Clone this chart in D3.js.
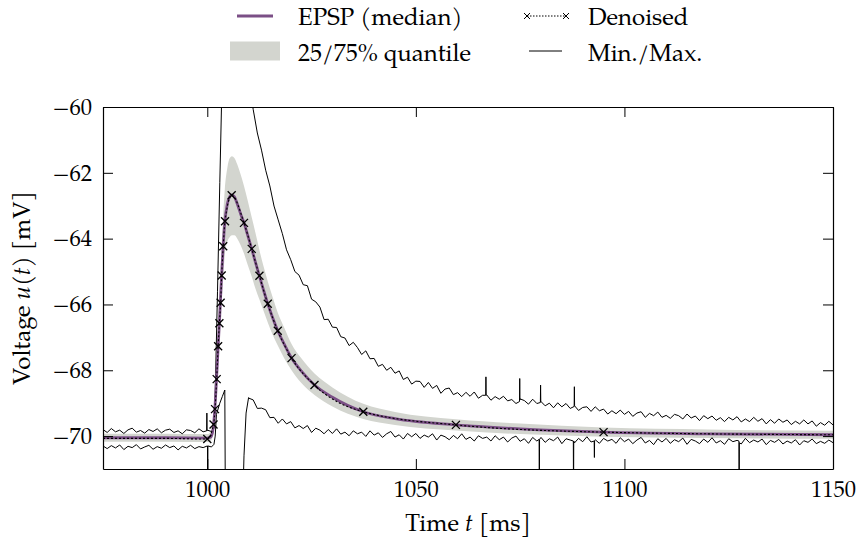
<!DOCTYPE html>
<html><head><meta charset="utf-8">
<script src="https://cdn.jsdelivr.net/npm/d3@7"></script>
<style>
body{margin:0;background:#fff}
</style>
</head><body>
<svg id="chart" width="859" height="543"></svg>
<script>
// ---------- data ----------
const xTicks = [1000, 1050, 1100, 1150];
const yTicks = [-70, -68, -66, -64, -62, -60];
const xDomain = [975, 1150];
const yDomain = [-71, -60];

// EPSP median and quantiles
const medianT = [975, 990, 1000, 1000.8, 1001.3, 1001.8, 1002.2, 1002.6, 1003.0, 1003.4, 1003.8, 1004.2, 1004.8, 1005.4, 1005.9, 1006.5, 1007.2, 1008, 1008.8, 1009.7, 1010.65, 1011.5, 1012.5, 1013.5, 1014.5, 1015.6, 1016.9, 1018.5, 1020.2, 1022.5, 1025.7, 1030, 1037.4, 1045, 1059.6, 1075, 1095, 1120, 1150];
const medianV = [-70.05, -70.05, -70.06, -70.03, -69.85, -69.2, -68.3, -67.3, -66.3, -65.2, -64.25, -63.5, -62.95, -62.72, -62.67, -62.73, -62.95, -63.25, -63.52, -63.9, -64.31, -64.7, -65.14, -65.57, -65.98, -66.38, -66.8, -67.22, -67.63, -68.02, -68.45, -68.82, -69.26, -69.47, -69.66, -69.78, -69.88, -69.93, -69.96];
const q25V = [-70.17, -70.17, -70.18, -70.15, -70.0, -69.5, -68.8, -67.9, -67.0, -66.0, -65.2, -64.5, -64.1, -63.95, -63.9, -63.9, -64.0, -64.2, -64.45, -64.8, -65.15, -65.5, -65.85, -66.2, -66.55, -66.9, -67.25, -67.65, -68.0, -68.38, -68.75, -69.1, -69.48, -69.66, -69.83, -69.94, -70.02, -70.06, -70.08];
const q75V = [-69.93, -69.93, -69.94, -69.88, -69.6, -68.8, -67.7, -66.6, -65.5, -64.3, -63.3, -62.5, -61.85, -61.55, -61.5, -61.55, -61.75, -62.05, -62.4, -62.85, -63.35, -63.8, -64.35, -64.85, -65.3, -65.75, -66.25, -66.72, -67.2, -67.63, -68.1, -68.52, -69.02, -69.27, -69.49, -69.62, -69.74, -69.8, -69.84];

// denoised curve and its markers
const denoisedT = [975, 990, 1000.0, 1001.5, 1001.85, 1002.25, 1002.6, 1002.9, 1003.2, 1003.45, 1003.82, 1004.25, 1005.85, 1008.8, 1010.65, 1012.5, 1014.5, 1016.9, 1020.2, 1025.7, 1037.4, 1059.6, 1095, 1150];
const denoisedV = [-70.07, -70.07, -70.09, -69.65, -69.18, -68.27, -67.27, -66.57, -65.95, -65.12, -64.23, -63.47, -62.68, -63.52, -64.31, -65.13, -65.98, -66.8, -67.63, -68.45, -69.26, -69.66, -69.88, -69.96];
const markerT = [1000.0, 1001.5, 1001.85, 1002.25, 1002.6, 1002.9, 1003.2, 1003.45, 1003.82, 1004.25, 1005.85, 1008.8, 1010.65, 1012.5, 1014.5, 1016.9, 1020.2, 1025.7, 1037.4, 1059.6, 1095];
const markerV = [-70.09, -69.65, -69.18, -68.27, -67.27, -66.57, -65.95, -65.12, -64.23, -63.47, -62.68, -63.52, -64.31, -65.13, -65.98, -66.8, -67.63, -68.45, -69.26, -69.66, -69.88];

// maximum trace [time, voltage]
const maxTrace = [
[975,-69.80],[976,-69.89],[977,-69.77],[978,-69.87],[979,-69.82],[980,-69.92],[981,-69.81],[982,-69.76],[983,-69.88],[984,-69.83],
[985,-69.91],[986,-69.80],[987,-69.86],[988,-69.78],[989,-69.90],[990,-69.82],[991,-69.79],[992,-69.89],[993,-69.84],[994,-69.93],
[995,-69.81],[996,-69.83],[997,-69.90],[998,-69.78],[999,-69.87],[999.85,-69.84],[999.9,-69.30],[999.95,-69.84],[1000,-69.82],[1001,-69.86],
[1001.7,-69.75],[1002,-68.1],[1002.45,-65.6],[1003,-62.3],[1003.4,-60.0],[1004,-56],[1009.5,-56],[1010.3,-59.5],
[1011,-60.07],[1012,-60.79],[1013,-61.31],[1014,-61.92],[1015,-62.40],[1016,-63.01],[1017,-63.43],[1018,-63.85],[1019,-64.34],[1020,-64.64],
[1021,-65.00],[1022,-65.11],[1023,-65.40],[1024,-65.43],[1025,-65.84],[1026,-65.92],[1027,-66.08],[1028,-66.46],[1029,-66.45],[1030,-66.69],
[1031,-66.70],[1032,-66.98],[1033,-67.02],[1034,-67.25],[1035,-67.15],[1036,-67.31],[1037,-67.52],[1038,-67.41],[1039,-67.65],[1040,-67.64],
[1041,-67.88],[1042,-67.82],[1043,-68.00],[1044,-67.91],[1045,-68.09],[1046,-68.02],[1047,-68.28],[1048,-68.21],[1049,-68.42],[1050,-68.33],
[1051,-68.34],[1052,-68.52],[1053,-68.37],[1054,-68.55],[1055,-68.46],[1056,-68.70],[1057,-68.57],[1058,-68.54],[1059,-68.74],[1060,-68.68],
[1061,-68.80],[1062,-68.67],[1063,-68.79],[1064,-68.66],[1065,-68.85],[1066,-68.76],[1066.75,-68.76],[1066.8,-68.2],[1066.85,-68.76],[1067,-68.75],
[1068,-68.91],[1069,-68.80],[1070,-68.88],[1071,-68.79],[1072,-68.93],[1073,-68.89],[1074,-69.01],[1074.85,-68.95],[1074.9,-68.25],[1074.95,-68.9],
[1075,-68.87],[1076,-68.92],[1077,-69.03],[1078,-68.88],[1079,-69.01],[1079.85,-68.98],[1079.9,-68.45],[1079.95,-68.96],[1080,-68.95],[1081,-69.08],
[1082,-69.00],[1083,-69.14],[1084,-68.99],[1085,-69.11],[1086,-69.01],[1087,-69.16],[1087.95,-69.10],[1088,-68.5],[1088.05,-69.08],[1089,-69.22],
[1090,-69.13],[1091,-69.11],[1092,-69.25],[1093,-69.11],[1094,-69.23],[1095,-69.18],[1096,-69.33],[1097,-69.23],[1098,-69.32],[1099,-69.21],
[1100,-69.34],[1101,-69.25],[1102,-69.40],[1103,-69.30],[1104,-69.26],[1105,-69.43],[1106,-69.31],[1107,-69.38],[1108,-69.27],[1109,-69.43],
[1110,-69.37],[1111,-69.46],[1112,-69.34],[1113,-69.38],[1114,-69.48],[1115,-69.33],[1116,-69.45],[1117,-69.39],[1118,-69.53],[1119,-69.38],
[1120,-69.47],[1121,-69.39],[1122,-69.52],[1123,-69.44],[1124,-69.56],[1125,-69.43],[1126,-69.51],[1127,-69.41],[1128,-69.57],[1129,-69.48],
[1130,-69.56],[1131,-69.43],[1132,-69.55],[1133,-69.47],[1134,-69.63],[1135,-69.50],[1136,-69.61],[1137,-69.48],[1138,-69.58],[1139,-69.51],
[1140,-69.65],[1141,-69.55],[1142,-69.63],[1143,-69.51],[1144,-69.63],[1145,-69.54],[1146,-69.70],[1147,-69.59],[1148,-69.67],[1149,-69.55],[1150,-69.66]
];

// minimum trace [time, voltage]
const minTrace = [
[975,-70.30],[976,-70.38],[977,-70.29],[978,-70.36],[979,-70.27],[980,-70.41],[981,-70.31],[982,-70.35],[983,-70.26],[984,-70.39],
[985,-70.33],[986,-70.28],[987,-70.40],[988,-70.32],[989,-70.37],[990,-70.27],[991,-70.35],[992,-70.30],[993,-70.42],[994,-70.31],
[995,-70.36],[996,-70.28],[997,-70.38],[998,-70.32],[999,-70.35],[1000,-70.30],[1000.05,-70.30],[1000.1,-72.5],[1000.15,-70.30],[1001,-70.33],
[1001.6,-70.25],[1001.9,-70.0],[1002.2,-69.34],[1003,-69.0],[1003.6,-68.8],[1004.2,-68.6],[1004.35,-72.5],[1008.4,-72.5],[1008.8,-70.6],[1009.3,-69.3],
[1009.9,-68.83],[1010,-68.85],[1011,-68.90],[1012,-69.16],[1013,-69.15],[1014,-69.20],[1015,-69.44],[1016,-69.43],[1017,-69.61],[1018,-69.48],
[1019,-69.63],[1020,-69.56],[1021,-69.75],[1022,-69.68],[1023,-69.77],[1024,-69.68],[1025,-69.89],[1026,-69.76],[1027,-69.82],[1028,-69.93],
[1029,-69.80],[1030,-69.92],[1031,-69.78],[1032,-69.94],[1033,-69.88],[1034,-69.99],[1035,-69.84],[1036,-69.93],[1037,-69.88],[1038,-70.01],
[1039,-69.84],[1040,-69.97],[1041,-69.90],[1042,-70.04],[1043,-69.93],[1044,-69.86],[1045,-70.03],[1046,-69.96],[1047,-70.09],[1048,-69.92],
[1049,-70.02],[1050,-69.92],[1051,-70.07],[1052,-69.97],[1053,-70.03],[1054,-69.93],[1055,-70.12],[1056,-69.97],[1057,-70.02],[1058,-70.11],
[1059,-69.98],[1060,-70.08],[1061,-69.93],[1062,-70.10],[1063,-70.03],[1064,-70.15],[1065,-69.99],[1066,-70.07],[1067,-70.03],[1068,-70.15],
[1069,-69.99],[1070,-70.11],[1071,-70.03],[1072,-70.18],[1073,-70.06],[1074,-70.00],[1075,-70.16],[1076,-70.08],[1077,-70.22],[1078,-70.04],
[1079,-70.15],[1079.55,-70.10],[1079.6,-72.5],[1079.65,-70.10],[1080,-70.04],[1081,-70.19],[1082,-70.08],[1083,-70.14],[1084,-70.03],[1085,-70.23],
[1086,-70.08],[1087,-70.12],[1087.75,-70.15],[1087.8,-72.5],[1087.85,-70.15],[1088,-70.21],[1089,-70.07],[1090,-70.17],[1091,-70.02],[1092,-70.18],
[1092.75,-70.15],[1092.8,-70.65],[1092.85,-70.14],[1093,-70.11],[1094,-70.22],[1095,-70.07],[1096,-70.15],[1097,-70.10],[1098,-70.22],[1099,-70.05],
[1100,-70.17],[1101,-70.09],[1102,-70.23],[1103,-70.12],[1104,-70.04],[1105,-70.21],[1106,-70.13],[1107,-70.26],[1108,-70.08],[1109,-70.18],
[1110,-70.07],[1111,-70.22],[1112,-70.11],[1113,-70.17],[1114,-70.06],[1115,-70.25],[1116,-70.10],[1117,-70.15],[1118,-70.23],[1119,-70.09],
[1120,-70.19],[1121,-70.05],[1122,-70.21],[1123,-70.14],[1124,-70.25],[1125,-70.08],[1126,-70.17],[1127,-70.13],[1127.45,-70.15],[1127.5,-72.5],
[1127.55,-70.20],[1128,-70.24],[1129,-70.07],[1130,-70.20],[1131,-70.12],[1132,-70.18],[1133,-70.09],[1134,-70.26],[1135,-70.13],[1136,-70.19],
[1137,-70.10],[1138,-70.24],[1139,-70.15],[1140,-70.21],[1141,-70.11],[1142,-70.27],[1143,-70.14],[1144,-70.19],[1145,-70.09],[1146,-70.23],
[1147,-70.16],[1148,-70.22],[1149,-70.12],[1150,-70.20]
];

const legendItems = [
  {label: "EPSP (median)", kind: "median"},
  {label: "25/75% quantile", kind: "band"},
  {label: "Denoised", kind: "denoised"},
  {label: "Min./Max.", kind: "minmax"}
];

// ---------- styles ----------
const PURPLE = "#7b4f86";
const BAND = "#d3d5cf";
const FONT = '"TeX Gyre Pagella","URW Palladio L","Liberation Serif",serif';

// ---------- layout ----------
const svg = d3.select("#chart");
const L = 103, R = 833, T = 107, B = 469;
const x = d3.scaleLinear().domain(xDomain).range([L, R]);
const y = d3.scaleLinear().domain(yDomain).range([B, T]);

svg.append("defs").append("clipPath").attr("id", "plotclip")
  .append("rect").attr("x", L).attr("y", T).attr("width", R - L).attr("height", B - T);

const plot = svg.append("g").attr("clip-path", "url(#plotclip)");

// band
const bandData = medianT.map((t, i) => ({t, lo: q25V[i], hi: q75V[i]}));
plot.append("path").datum(bandData)
  .attr("d", d3.area().x(d => x(d.t)).y0(d => y(d.lo)).y1(d => y(d.hi)).curve(d3.curveMonotoneX))
  .attr("fill", BAND).attr("stroke", "none");

// min / max traces
const traceLine = d3.line().x(d => x(d[0])).y(d => y(d[1]));
[maxTrace, minTrace].forEach(tr => {
  plot.append("path").datum(tr).attr("d", traceLine)
    .attr("fill", "none").attr("stroke", "#000").attr("stroke-width", 1).attr("stroke-linejoin", "round");
});

// median
const medData = medianT.map((t, i) => [t, medianV[i]]);
plot.append("path").datum(medData)
  .attr("d", d3.line().x(d => x(d[0])).y(d => y(d[1])).curve(d3.curveMonotoneX))
  .attr("fill", "none").attr("stroke", PURPLE).attr("stroke-width", 2.8);

// denoised dotted line
const denData = denoisedT.map((t, i) => [t, denoisedV[i]]);
plot.append("path").datum(denData)
  .attr("d", d3.line().x(d => x(d[0])).y(d => y(d[1])).curve(d3.curveMonotoneX))
  .attr("fill", "none").attr("stroke", "#000").attr("stroke-width", 1.1).attr("stroke-dasharray", "2,2");

// markers
const mk = 4;
const mData = markerT.map((t, i) => [t, markerV[i]]);
plot.selectAll("path.mk").data(mData).enter().append("path").attr("class", "mk")
  .attr("d", d => {
    const cx = x(d[0]), cy = y(d[1]);
    return `M${cx - mk},${cy - mk}L${cx + mk},${cy + mk}M${cx - mk},${cy + mk}L${cx + mk},${cy - mk}`;
  })
  .attr("stroke", "#000").attr("stroke-width", 1.3).attr("fill", "none");

// ---------- axes ----------
const tickLen = 10;
const gB = svg.append("g").attr("transform", `translate(0,${B})`)
  .call(d3.axisBottom(x).tickValues(xTicks).tickSizeInner(-tickLen).tickSizeOuter(0).tickPadding(12).tickFormat(d3.format("d")));
const gT = svg.append("g").attr("transform", `translate(0,${T})`)
  .call(d3.axisTop(x).tickValues(xTicks).tickSizeInner(-tickLen).tickSizeOuter(0).tickFormat(""));
const gL = svg.append("g").attr("transform", `translate(${L},0)`)
  .call(d3.axisLeft(y).tickValues(yTicks).tickSizeInner(-tickLen).tickSizeOuter(0).tickPadding(11).tickFormat(d3.format("d")));
const gR = svg.append("g").attr("transform", `translate(${R},0)`)
  .call(d3.axisRight(y).tickValues(yTicks).tickSizeInner(-tickLen).tickSizeOuter(0).tickFormat(""));
[gB, gT, gL, gR].forEach(g => {
  g.attr("font-family", null).attr("font-size", null);
  g.select(".domain").attr("stroke", "#000").attr("stroke-width", 1.2);
  g.selectAll(".tick line").attr("stroke", "#000").attr("stroke-width", 1);
  g.selectAll(".tick text").style("font-family", FONT).style("font-size", "22.5px").attr("fill", "#000");
});

// axis labels
const xl = svg.append("text").attr("x", (L + R) / 2).attr("y", 531).attr("text-anchor", "middle")
  .style("font-family", FONT).style("font-size", "24px");
xl.append("tspan").text("Time ");
xl.append("tspan").style("font-style", "italic").text("t");
xl.append("tspan").text(" [ms]");

const yl = svg.append("text").attr("transform", `translate(30,${(T + B) / 2}) rotate(-90)`).attr("text-anchor", "middle")
  .style("font-family", FONT).style("font-size", "24px");
yl.append("tspan").text("Voltage ");
yl.append("tspan").style("font-style", "italic").text("u");
yl.append("tspan").text("(");
yl.append("tspan").style("font-style", "italic").text("t");
yl.append("tspan").text(") [mV]");

// ---------- legend ----------
const leg = svg.append("g");
const legPos = [
  {sx: 237, ex: 273, tx: 298, cy: 16, by: 25},
  {sx: 230, ex: 280, tx: 298, cy: 51, by: 61},
  {sx: 527, ex: 566, tx: 588, cy: 16, by: 25},
  {sx: 529, ex: 562, tx: 588, cy: 51, by: 61}
];
legendItems.forEach((it, i) => {
  const p = legPos[i];
  if (it.kind === "median") {
    leg.append("line").attr("x1", p.sx).attr("x2", p.ex).attr("y1", p.cy).attr("y2", p.cy)
      .attr("stroke", PURPLE).attr("stroke-width", 2.8);
  } else if (it.kind === "band") {
    leg.append("rect").attr("x", p.sx).attr("y", p.cy - 9.5).attr("width", p.ex - p.sx).attr("height", 19).attr("fill", BAND);
  } else if (it.kind === "denoised") {
    leg.append("line").attr("x1", p.sx).attr("x2", p.ex).attr("y1", p.cy).attr("y2", p.cy)
      .attr("stroke", "#000").attr("stroke-width", 1).attr("stroke-dasharray", "1.5,1.5");
    const s = 3;
    [p.sx, p.ex].forEach(cx => {
      leg.append("path").attr("d", `M${cx - s},${p.cy - s}L${cx + s},${p.cy + s}M${cx - s},${p.cy + s}L${cx + s},${p.cy - s}`)
        .attr("stroke", "#000").attr("stroke-width", 1);
    });
  } else {
    leg.append("line").attr("x1", p.sx).attr("x2", p.ex).attr("y1", p.cy).attr("y2", p.cy)
      .attr("stroke", "#000").attr("stroke-width", 1);
  }
  leg.append("text").attr("x", p.tx).attr("y", p.by).style("font-family", FONT).style("font-size", "24px").text(it.label);
});
</script>
</body></html>
